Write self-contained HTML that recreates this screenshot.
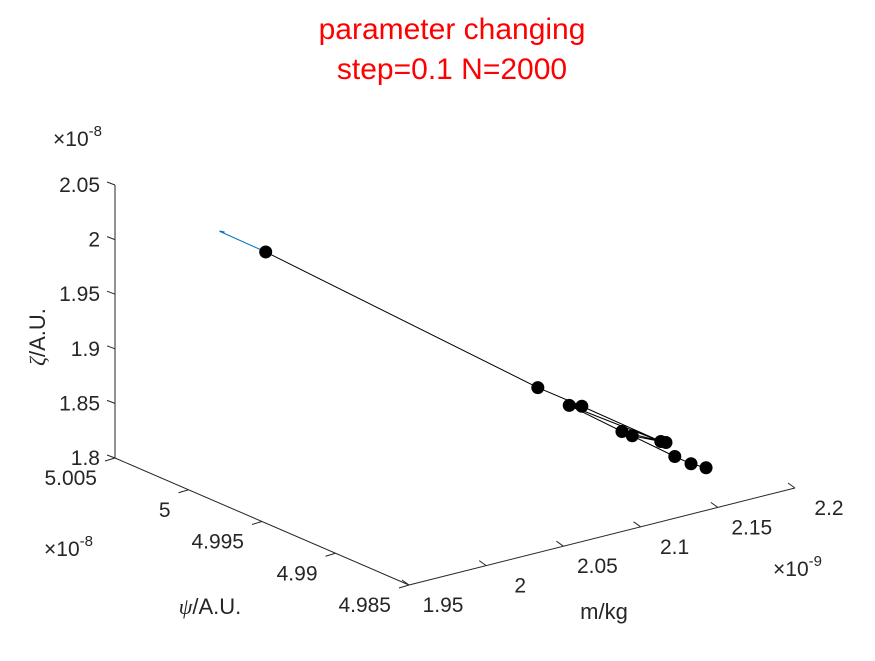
<!DOCTYPE html>
<html><head><meta charset="utf-8"><style>
body{margin:0;background:#fff;}
svg text{font-family:"Liberation Sans",sans-serif;}
</style></head><body>
<svg id="chart" width="875" height="656" viewBox="0 0 875 656" xmlns="http://www.w3.org/2000/svg">
<rect width="875" height="656" fill="#fff"/>
<text x="452" y="39" font-size="30" fill="#ff0000" text-anchor="middle">parameter changing</text>
<text x="452" y="79" font-size="30" fill="#ff0000" text-anchor="middle">step=0.1 N=2000</text>
<g id="axes" fill="#262626" font-size="21"></g>
<g id="marks"></g>
</svg>
<script>
const mVals   = [2.0, 2.1174, 2.131, 2.1364, 2.1537, 2.158, 2.1705, 2.1727, 2.1765, 2.1835, 2.19];
const psiVals = [5.0, 4.99382, 4.99311, 4.99282, 4.99191, 4.99166, 4.99103, 4.99091, 4.99071, 4.99034, 4.99];
const zVals   = [2.0, 1.870, 1.853, 1.852, 1.828, 1.824, 1.818, 1.817, 1.804, 1.797, 1.793];
const pathOrder = [0,1,3,6,2,4,7,5,8,9,10];
const arrowStart = [1.980, 5.00104, 2.020];
const zTicks = [1.8,1.85,1.9,1.95,2,2.05];
const zTickLabels = ["1.8","1.85","1.9","1.95","2","2.05"];
const psiTicks = [5.005,5,4.995,4.99,4.985];
const psiTickLabels = ["5.005","5","4.995","4.99","4.985"];
const mTicks = [1.95,2,2.05,2.1,2.15,2.2];
const mTickLabels = ["1.95","2","2.05","2.1","2.15","2.2"];

const NS="http://www.w3.org/2000/svg";
function proj(m,psi,z){
  const p=(5.005-psi)/0.005, mm=(m-1.95)/0.05, zz=(z-1.8)/0.05;
  return [115+p*73.5+mm*77.2, 458+p*31.75-mm*19.4-zz*54.6];
}
function mk(tag,attrs,parent){const e=document.createElementNS(NS,tag);for(const k in attrs)e.setAttribute(k,attrs[k]);parent.appendChild(e);return e;}
const ax=document.getElementById('axes'), mk2=document.getElementById('marks');
function line(a,b,name,col,w,par){const l=mk('line',{x1:a[0],y1:a[1],x2:b[0],y2:b[1],stroke:col,'stroke-width':w},par);

return l;}
function txt(x,y,s,anchor,name,size){const t=mk('text',{x:x,y:y,'text-anchor':anchor},ax);if(size)t.setAttribute('font-size',size);t.textContent=s;

return t;}
const O=proj(1.95,5.005,1.8);
line(O,proj(1.95,5.005,2.05),'z-axis-line','#262626',1,ax);
line(O,proj(1.95,4.985,1.8),'psi-axis-line','#262626',1,ax);
line(proj(1.95,4.985,1.8),proj(2.2,4.985,1.8),'m-axis-line','#262626',1,ax);
zTicks.forEach((v,i)=>{const p=proj(1.95,5.005,v);line(p,[p[0]-8,p[1]-3],'z-tick','#262626',1,ax);txt(100,p[1]+7,zTickLabels[i],'end','z-tick-label');});
psiTicks.forEach((v,i)=>{const p=proj(1.95,v,1.8);line(p,[p[0]-10,p[1]+3],'psi-tick','#262626',1,ax);txt(p[0]-18,p[1]+27,psiTickLabels[i],'end','psi-tick-label');});
mTicks.forEach((v,i)=>{const p=proj(v,4.985,1.8);line(p,[p[0]-7,p[1]-5],'m-tick','#262626',1,ax);txt(p[0]+34,p[1]+27,mTickLabels[i],'middle','m-tick-label');});
function exp(x,y,e,name){const t=txt(x,y,'','start',name,21);const a=mk('tspan',{'font-size':21},t);a.textContent='\u00d710';const s=mk('tspan',{dy:-10,'font-size':15},t);s.textContent=e;}
exp(53,146,'-8','z-exponent');exp(44,556,'-8','psi-exponent');exp(773,576,'-9','m-exponent');
const zl=txt(45,337,'','middle','z-axis-title');zl.setAttribute('transform','rotate(-90 45 337)');zl.setAttribute('font-size','22');
const zi=mk('tspan',{'font-style':'italic','font-family':'Liberation Serif, serif'},zl);zi.textContent='ζ';
const zr=mk('tspan',{},zl);zr.textContent='/A.U.';
const pl2=txt(210,614,'','middle','psi-axis-title',22);
const pi=mk('tspan',{'font-style':'italic','font-family':'Liberation Serif, serif'},pl2);pi.textContent='ψ';
const pr=mk('tspan',{},pl2);pr.textContent='/A.U.';
txt(604,619,'m/kg','middle','m-axis-title',22);
// marks
const pts=mVals.map((m,i)=>proj(m,psiVals[i],zVals[i]));
const a=proj(arrowStart[0],arrowStart[1],arrowStart[2]);
line(pts[0],a,'blue-arrow','#0072bd',1,mk2);
line(a,[a[0]+5,a[1]+1],'blue-arrow-head','#0072bd',1.5,mk2);
const pl=mk('polyline',{points:pathOrder.map(i=>pts[i].join(',')).join(' '),fill:'none',stroke:'#000','stroke-width':1},mk2);


pts.forEach((p,i)=>{const c=mk('circle',{cx:p[0],cy:p[1],r:6.5,fill:'#000'},mk2);

});
</script>
</body></html>
